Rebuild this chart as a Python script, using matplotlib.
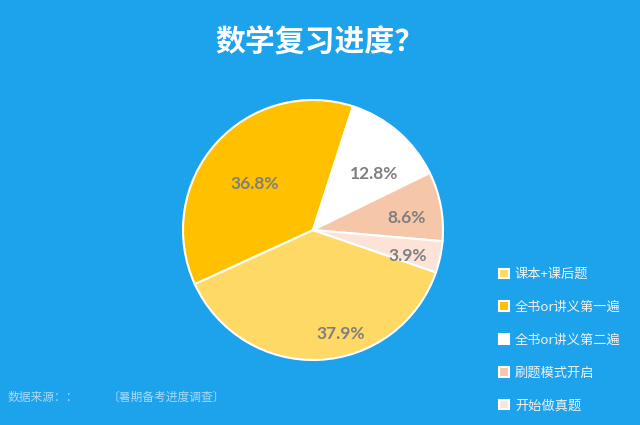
import matplotlib
matplotlib.use('Agg')
import matplotlib.pyplot as plt

plt.rcParams['font.family'] = ['Noto Sans CJK SC', 'DejaVu Sans']

# data
categories = ['课本+课后题', '全书or讲义第一遍', '全书or讲义第二遍', '刷题模式开启', '开始做真题']
shares = [37.9, 36.8, 12.8, 8.6, 3.9]
colors = ['#FFD966', '#FFC000', '#FFFFFF', '#F6C6A9', '#FBE4D7']
# label spots inside the pie (data coords, radius 1)
label_xy = [(0.21, -0.80), (-0.45, 0.35), (0.47, 0.43), (0.72, 0.09), (0.73, -0.20)]

title = '数学复习进度？'
source_left = '数据来源：：'
source_right = '〔暑期备考进度调查〕'

bg = '#1DA2EC'
fig = plt.figure(figsize=(6.4, 4.25), dpi=100, facecolor=bg)

cx, cy, r = 313, 230, 130
W, H = 640, 425
ax = fig.add_axes([(cx - r) / W, (H - cy - r) / H, 2 * r / W, 2 * r / H])
ax.set_facecolor(bg)

wedges, _ = ax.pie(shares, colors=colors, startangle=-19, counterclock=False,
                   wedgeprops=dict(edgecolor='white', linewidth=1.5))
ax.set_xlim(-1, 1)
ax.set_ylim(-1, 1)
ax.set_aspect('equal')
ax.axis('off')

for (x, y), v in zip(label_xy, shares):
    ax.text(x, y, f'{v:.1f}%', ha='center', va='center', color='#7F7F7F',
            fontsize=12.5, fontweight='bold', family=['Lato', 'DejaVu Sans'])

fig.text(0.5, 1 - 42 / H, title, ha='center', va='center', color='white',
         fontsize=21.5, fontweight='bold')

leg = fig.legend(wedges, categories, loc='upper left',
                 bbox_to_anchor=(499 / W, 1 - 268 / H), frameon=False,
                 fontsize=9.5, labelcolor='#F2F2F2', handlelength=0.75,
                 handleheight=0.75, handletextpad=0.45, labelspacing=1.5,
                 borderpad=0, borderaxespad=0)

fig.text(8 / W, 1 - 397 / H, source_left, ha='left', va='center',
         color='#A9D9F6', fontsize=8.5)
fig.text(108 / W, 1 - 397 / H, source_right, ha='left', va='center',
         color='#A9D9F6', fontsize=8.5)

fig.savefig('out.png', dpi=100, facecolor=bg)
